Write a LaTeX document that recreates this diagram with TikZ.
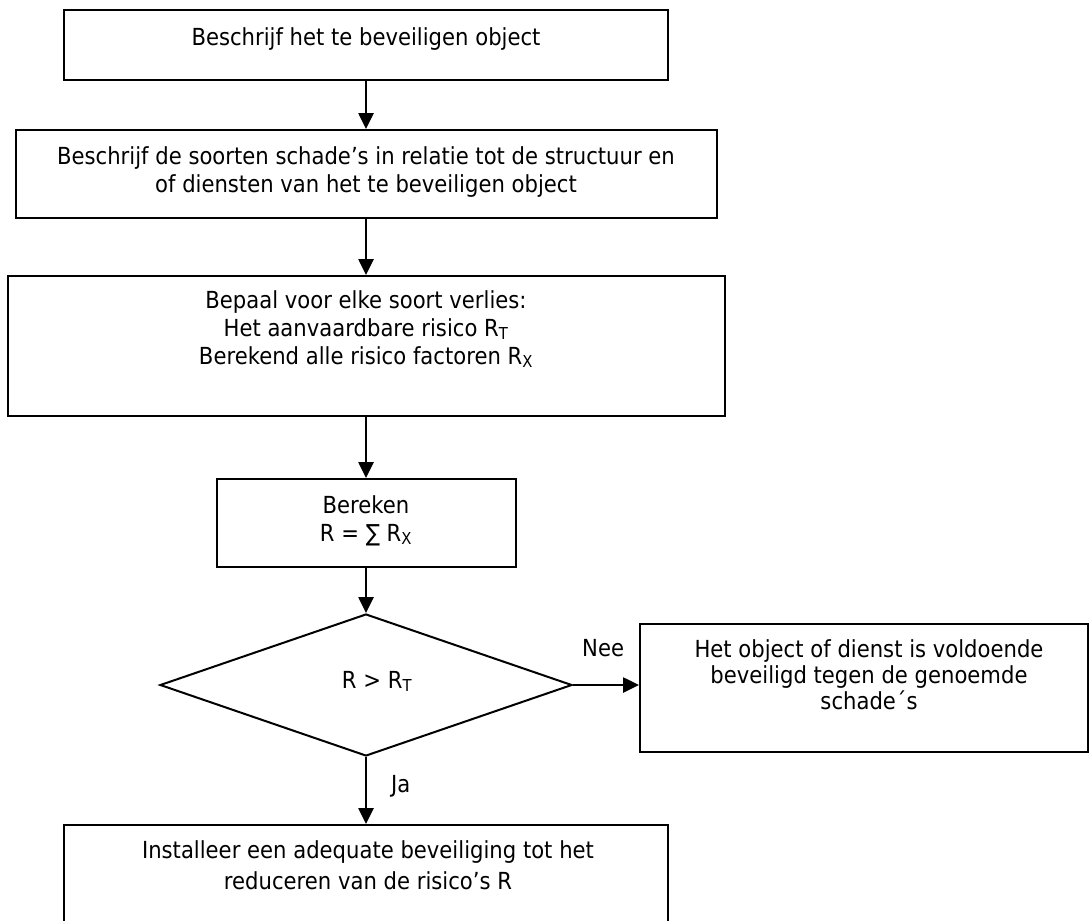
\documentclass[tikz,border=0pt]{standalone}
\usepackage{fontspec}
\setmainfont{DejaVu Sans}[FakeStretch=0.9]
\usetikzlibrary{arrows.meta,shapes.geometric}

\begin{document}
\begin{tikzpicture}[x=1pt,y=-1pt,
  box/.style={draw,line width=2pt,rectangle,inner sep=0pt},
  txt/.style={font=\fontsize{23.5}{28}\selectfont,align=center,anchor=base,inner sep=0pt},
  pijl/.style={line width=2.6pt,-{Triangle[length=16pt,width=15pt]}}]
\clip (0,0) rectangle (1090,921);

% de stappen
\node[box,minimum width=604pt,minimum height=70pt] (object) at (366,45) {};
\node[box,minimum width=701pt,minimum height=88pt] (soorten) at (366,174) {};
\node[box,minimum width=717pt,minimum height=140pt] (verlies) at (366,346) {};
\node[box,minimum width=299pt,minimum height=88pt] (bereken) at (366,523) {};
\node[draw,diamond,line width=2pt,inner sep=0pt,minimum width=412pt,minimum height=142pt] (vergelijk) at (366,685) {};
\node[box,minimum width=448pt,minimum height=128pt] (voldoende) at (864,688) {};
\node[box,minimum width=604pt,minimum height=150pt] (installeer) at (366,900) {};

% de teksten (anker = basislijn van de laatste regel)
\node[txt] (objecttxt) at (366,45) {Beschrijf het te beveiligen object};
\node[txt] (soortentxt) at (366,192) {Beschrijf de soorten schade’s in relatie tot de structuur en\\of diensten van het te beveiligen object};
\node[txt] (verliestxt) at (366,364) {Bepaal voor elke soort verlies:\\Het aanvaardbare risico R\textsubscript{T}\\Berekend alle risico factoren R\textsubscript{X}};
\node[txt] (berekentxt) at (366,541) {Bereken\\R = ∑ R\textsubscript{X}};
\node[txt] (vergelijktxt) at (377,688) {R > R\textsubscript{T}};
\node[txt,font=\fontsize{23.5}{26}\selectfont] (voldoendetxt) at (869,709) {Het object of dienst is voldoende\\beveiligd tegen de genoemde\\schade´s};
\node[txt,font=\fontsize{23.5}{31}\selectfont] (installeertxt) at (368,889) {Installeer een adequate beveiliging tot het\\reduceren van de risico’s R};

% de pijlen
\draw[pijl] (object) -- (soorten);
\draw[pijl] (soorten) -- (verlies);
\draw[pijl] (verlies) -- (bereken);
\draw[pijl] (bereken) -- (vergelijk);
\draw[pijl] (vergelijk.east) -- (voldoende.west |- vergelijk.east);
\draw[pijl] (vergelijk) -- (installeer);
\node[txt,anchor=base west] (nee) at (582,656) {Nee};
\node[txt,anchor=base west] (ja) at (391,792) {Ja};
\end{tikzpicture}
\end{document}
